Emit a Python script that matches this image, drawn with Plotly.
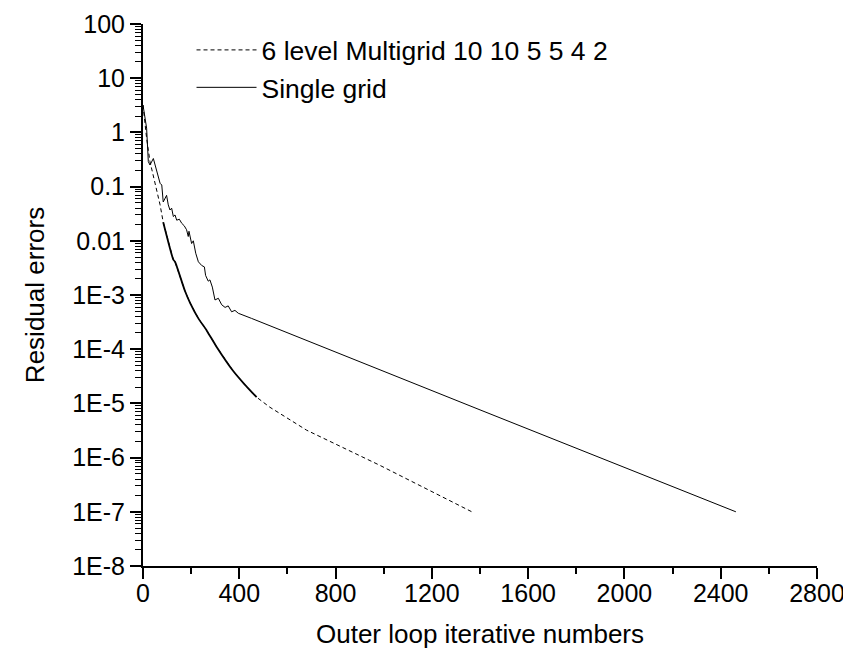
import plotly.graph_objects as go

# ---- data ----
single_iter = [0, 15, 22, 29, 43, 57, 71, 78, 84, 98, 105, 112, 119, 126, 133, 140, 151, 161, 171,
               181, 188, 191, 202, 209, 219, 230, 244, 255, 260, 271, 278, 288, 299, 313, 327, 341,
               354, 368, 382, 396, 451, 1400, 2463]
single_res = [3.2, 1.2, 0.29, 0.25, 0.33, 0.19, 0.115, 0.107, 0.052, 0.069, 0.046, 0.037, 0.040,
              0.028, 0.030, 0.024, 0.025, 0.021, 0.019, 0.016, 0.012, 0.015, 0.0089, 0.010, 0.0059,
              0.0041, 0.0035, 0.0033, 0.0023, 0.0018, 0.0019, 0.0014, 8.1e-4, 8.7e-4, 6.6e-4,
              5.9e-4, 6.3e-4, 4.9e-4, 5.2e-4, 4.6e-4, 3.7e-4, 7.6e-6, 1.0e-7]

multi_iter = [0, 15, 29, 40, 50, 71, 84, 126, 133, 174, 196, 230, 265, 306, 374, 420, 472, 527,
              680, 900, 984, 1366]
multi_res = [3.2, 0.78, 0.29, 0.18, 0.12, 0.046, 0.022, 0.0045, 0.0041, 0.0012, 7.1e-4, 3.7e-4,
             2.2e-4, 1.1e-4, 4.0e-5, 2.3e-5, 1.3e-5, 8.5e-6, 3.2e-6, 1.1e-6, 7.2e-7, 1.0e-7]

# iteration span where the multigrid curve oscillates densely (drawn as a thick band)
dense_span = [84, 472]

series_names = ["6 level Multigrid 10 10 5 5 4 2", "Single grid"]

x_ticks = [0, 400, 800, 1200, 1600, 2000, 2400, 2800]
y_ticks = [100, 10, 1, 0.1, 0.01, 1e-3, 1e-4, 1e-5, 1e-6, 1e-7, 1e-8]
y_labels = ["100", "10", "1", "0.1", "0.01", "1E-3", "1E-4", "1E-5", "1E-6", "1E-7", "1E-8"]

FONT = "Liberation Sans, Arial, sans-serif"

fig = go.Figure()
fig.add_trace(go.Scatter(
    x=multi_iter, y=multi_res, mode="lines", name=series_names[0],
    line=dict(color="black", width=1, dash="4px,3px"), legendgroup="mg"))
dense_idx = [i for i, v in enumerate(multi_iter) if dense_span[0] <= v <= dense_span[1]]
fig.add_trace(go.Scatter(
    x=[multi_iter[i] for i in dense_idx], y=[multi_res[i] for i in dense_idx],
    mode="lines", showlegend=False, hoverinfo="skip",
    line=dict(color="black", width=1.8, shape="spline", smoothing=0.6), legendgroup="mg"))
fig.add_trace(go.Scatter(
    x=single_iter, y=single_res, mode="lines", name=series_names[1],
    line=dict(color="black", width=1), legendgroup="sg"))

# the page adds an 8px body margin, so the figure is 8px smaller and margins shifted
fig.update_layout(
    width=843, height=649,
    margin=dict(l=135, r=34, t=16, b=91),
    paper_bgcolor="white", plot_bgcolor="white",
    font=dict(family=FONT, size=25, color="black"),
    showlegend=True,
    legend=dict(x=0.072, y=0.996, xanchor="left", yanchor="top",
                bgcolor="rgba(0,0,0,0)", font=dict(size=26.5),
                tracegroupgap=0, itemwidth=60),
    xaxis=dict(
        range=[0, 2800], tickmode="array", tickvals=x_ticks,
        showline=True, linecolor="black", linewidth=2,
        ticks="outside", ticklen=11, tickwidth=1.5, tickcolor="black",
        ticklabelstandoff=-7,
        minor=dict(ticks="outside", ticklen=6, tickwidth=1.5, tickcolor="black",
                   tickmode="linear", tick0=0, dtick=200, showgrid=False),
        showgrid=False, zeroline=False, automargin=False,
        title=dict(text="Outer loop iterative numbers", standoff=19,
                   font=dict(size=26)),
    ),
    yaxis=dict(
        type="log", range=[-8, 2], tickmode="array", tickvals=y_ticks, ticktext=y_labels,
        showline=True, linecolor="black", linewidth=2,
        ticks="outside", ticklen=11, tickwidth=1.5, tickcolor="black",
        minor=dict(ticks="outside", ticklen=6, tickwidth=1.2, tickcolor="black",
                   tickmode="linear", dtick="D1", showgrid=False),
        showgrid=False, zeroline=False, automargin=False,
        title=dict(text="Residual errors", standoff=20, font=dict(size=26)),
    ),
)

fig.write_html("out.html")
